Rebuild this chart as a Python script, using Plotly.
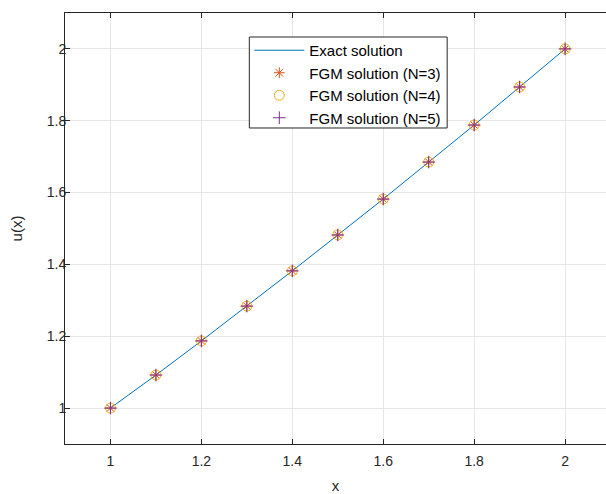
import plotly.graph_objects as go

x_vals = [1.0, 1.1, 1.2, 1.3, 1.4, 1.5, 1.6, 1.7, 1.8, 1.9, 2.0]
u_exact = [1.000, 1.092, 1.187, 1.284, 1.382, 1.482, 1.582, 1.685, 1.788, 1.894, 2.000]
u_n3 = [1.000, 1.092, 1.187, 1.284, 1.382, 1.482, 1.582, 1.685, 1.788, 1.894, 2.000]
u_n4 = [1.000, 1.092, 1.187, 1.284, 1.382, 1.482, 1.582, 1.685, 1.788, 1.894, 2.000]
u_n5 = [1.000, 1.092, 1.187, 1.284, 1.382, 1.482, 1.582, 1.685, 1.788, 1.894, 2.000]
tick_vals = [1, 1.2, 1.4, 1.6, 1.8, 2]
tick_text = ["1", "1.2", "1.4", "1.6", "1.8", "2"]

font = "Liberation Sans, Arial, sans-serif"
fig = go.Figure()
fig.add_trace(go.Scatter(x=x_vals, y=u_exact, mode="lines", name="Exact solution",
                         line=dict(color="#0072BD", width=1)))
fig.add_trace(go.Scatter(x=x_vals, y=u_n3, mode="markers", name="FGM solution (N=3)",
                         marker=dict(symbol="asterisk-open", size=9, color="#D95319",
                                     line=dict(color="#D95319", width=1))))
fig.add_trace(go.Scatter(x=x_vals, y=u_n4, mode="markers", name="FGM solution (N=4)",
                         marker=dict(symbol="circle-open", size=10, color="#EDB120",
                                     line=dict(color="#EDB120", width=1))))
fig.add_trace(go.Scatter(x=x_vals, y=u_n5, mode="markers", name="FGM solution (N=5)",
                         marker=dict(symbol="cross-thin-open", size=9, color="#7E2F8E",
                                     line=dict(color="#7E2F8E", width=1))))

axis_common = dict(showgrid=True, gridcolor="#e6e6e6", gridwidth=1, zeroline=False,
                   showline=True, linecolor="#262626", linewidth=1,
                   ticks="inside", ticklen=5, tickcolor="#262626",
                   tickfont=dict(family=font, size=14, color="#262626"),
                   tickvals=tick_vals, ticktext=tick_text, automargin=False)

# legend frame (drawn as a box behind the transparent legend)
fig.add_shape(type="rect", xref="paper", yref="paper",
              x0=0.3407, x1=0.7064, y0=0.7332, y1=0.9443,
              fillcolor="white", line=dict(color="#262626", width=1), layer="above")

fig.update_layout(
    width=606, height=494,
    margin=dict(l=64.5, r=0, t=13, b=50),
    paper_bgcolor="white", plot_bgcolor="white",
    font=dict(family=font, size=14, color="#262626"),
    xaxis=dict(range=[0.9, 2.09], mirror="ticks", ticklabelstandoff=4,
               title=dict(text="x", font=dict(family=font, size=15, color="#262626"), standoff=13),
               **axis_common),
    yaxis=dict(range=[0.9, 2.1], mirror=False, ticklabelstandoff=-5,
               title=dict(text="u(x)", font=dict(family=font, size=15, color="#262626"), standoff=20),
               **axis_common),
    legend=dict(x=0.3407, y=0.9513, xanchor="left", yanchor="top",
                bgcolor="rgba(0,0,0,0)", borderwidth=0,
                font=dict(family=font, size=15, color="#000000"),
                tracegroupgap=0, itemwidth=50),
    showlegend=True,
)

fig.write_html("out.html", config={"displayModeBar": False},
               post_script="document.body.style.margin='0';document.body.style.overflow='hidden';")
